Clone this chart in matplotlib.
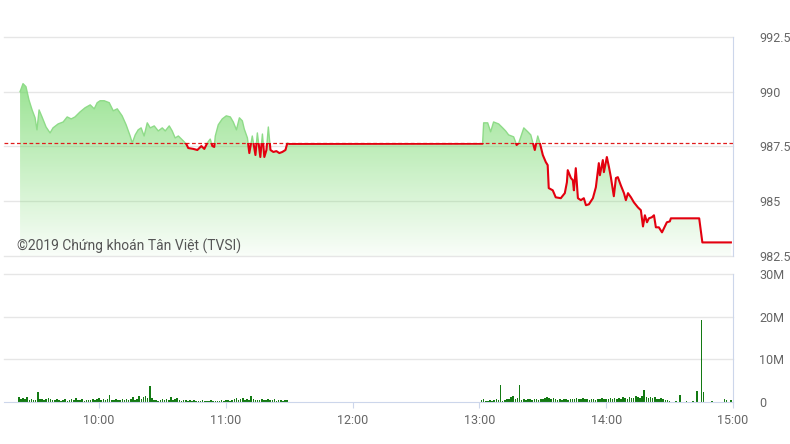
import numpy as np
import matplotlib.pyplot as plt
from matplotlib.patches import Polygon, Rectangle

plt.rcParams['font.family'] = ['Roboto', 'DejaVu Sans']

# index value, time in minutes after 9:00
price_min = [22.6, 24.0, 25.4, 26.8, 28.3, 29.7, 30.6, 31.6, 33.0, 34.9, 36.8, 38.2, 40.6, 43.0,
             44.9, 46.8, 48.6, 51.0, 53.4, 55.8, 57.7, 59.1, 60.5, 62.4, 64.8, 66.7, 68.6, 70.9,
             72.8, 74.7, 75.7, 77.1, 78.5, 79.9, 81.3, 82.8, 84.2, 86.1, 88.0, 89.9, 91.3, 93.2,
             94.6, 96.0, 97.5, 99.4, 101.3, 102.2, 104.6, 106.5, 108.4, 109.8, 111.2, 112.6,
             113.6, 114.5, 115.0, 116.4, 118.3, 120.2, 122.1, 123.5, 125.0, 126.4, 127.8, 128.7,
             130.2, 131.1, 132.5, 134.0, 134.9, 136.3, 137.3, 138.2, 139.2, 140.1, 141.1, 142.5,
             143.9, 145.3, 146.7, 148.2, 149.1, 150.0,
             240.0, 241.5, 242.0, 243.9, 245.3, 246.7, 249.1, 251.0, 252.4, 253.8, 256.2, 257.6,
             258.6, 261.0, 262.9, 264.3, 266.2, 266.7, 267.6, 268.6, 270.0, 271.4, 272.3, 272.8,
             274.7, 276.1, 278.5, 280.4, 281.4, 281.8, 283.3, 284.2, 284.7, 285.6, 286.6, 288.0,
             289.4, 290.4, 291.8, 293.7, 295.1, 296.5, 297.0, 298.4, 298.9, 300.3, 301.3, 302.2,
             303.6, 304.6, 305.5, 306.9, 308.4, 309.3, 310.3, 311.7, 313.1, 315.0, 316.4, 317.4,
             318.3, 319.3, 320.2, 321.6, 322.6, 323.5, 324.9, 326.4, 327.3, 328.7, 330.1, 330.6,
             344.0, 345.5, 359.0]
price_val = [990.00, 990.37, 990.23, 989.63, 989.17, 988.81, 988.26, 989.17, 988.85, 988.39,
             988.12, 988.35, 988.53, 988.62, 988.85, 988.76, 988.85, 989.08, 989.27, 989.40,
             989.22, 989.50, 989.59, 989.59, 989.50, 989.13, 989.22, 988.90, 988.49, 987.98,
             987.66, 988.03, 988.26, 988.35, 987.98, 988.58, 988.35, 988.44, 988.21, 988.35,
             988.21, 988.44, 988.21, 987.89, 987.98, 987.80, 987.61, 987.43, 987.39, 987.34,
             987.52, 987.39, 987.66, 987.84, 987.52, 987.48, 987.98, 988.49, 988.76, 988.90,
             988.85, 988.62, 988.26, 988.81, 988.67, 988.30, 987.89, 987.20, 987.98, 987.11,
             988.12, 987.02, 988.07, 987.02, 987.34, 988.39, 987.34, 987.25, 987.29, 987.20,
             987.25, 987.34, 987.66, 987.62,
             987.63, 987.63, 988.58, 988.58, 988.17, 988.62, 988.53, 988.35, 988.21, 988.03,
             987.94, 987.57, 987.66, 988.35, 988.17, 988.03, 987.34, 987.57, 987.98, 987.66,
             987.11, 986.79, 986.65, 985.60, 985.50, 985.18, 985.14, 985.37, 985.87, 986.42,
             986.06, 985.96, 985.50, 986.51, 985.14, 985.05, 985.14, 984.82, 984.86, 985.14,
             985.64, 986.74, 986.19, 986.88, 986.33, 987.02, 986.56, 986.10, 985.23, 986.06,
             986.10, 985.73, 985.37, 985.05, 985.37, 985.18, 984.95, 984.72, 984.59, 983.85,
             984.36, 984.04, 984.22, 984.27, 984.36, 983.81, 983.81, 983.58, 983.76, 984.04,
             984.08, 984.22, 984.22, 983.12, 983.12]
ref_price = 987.65

# volume in millions, one bar per minute
vol_am_start = 22
vol_am = [1.2, 0.8, 1.0, 0.6, 1.1, 0.5, 0.7, 0.4, 0.5, 2.3, 0.6, 0.8, 0.5, 0.7, 0.9, 0.6,
          0.5, 0.4, 0.6, 0.5, 0.3, 0.4, 0.6, 0.3, 0.5, 0.8, 0.4, 0.9, 0.5, 0.4, 0.6, 0.3,
          0.5, 0.4, 0.5, 0.7, 0.4, 0.6, 0.9, 0.5, 0.7, 0.4, 0.6, 1.6, 0.5, 0.4, 0.6, 0.5,
          0.4, 0.7, 0.5, 0.6, 0.4, 0.8, 1.2, 0.5, 0.6, 1.5, 0.7, 1.1, 1.4, 0.9, 3.7, 1.0,
          0.4, 0.5, 0.3, 0.4, 0.6, 0.5, 0.8, 0.4, 1.2, 0.5, 0.6, 0.9, 0.4, 0.3, 0.5, 0.4,
          0.3, 0.4, 0.3, 0.4, 0.3, 0.2, 0.3, 0.4, 0.3, 0.2, 0.3, 0.4, 0.3, 0.3, 0.2, 0.3,
          0.4, 0.3, 0.4, 0.5, 0.3, 0.4, 0.6, 0.9, 0.5, 0.7, 1.0, 0.5, 0.8, 0.4, 1.3, 0.6,
          0.5, 0.4, 0.5, 0.6, 0.4, 0.5, 0.7, 0.5, 0.4, 0.8, 0.3, 0.5, 0.4, 0.3, 0.4, 0.5]
vol_pm_start = 241
vol_pm = [0.4, 0.8, 0.3, 0.2, 0.4, 0.3, 0.5, 0.6, 0.4, 3.9, 0.3, 0.5, 0.6, 0.7, 1.2, 1.4,
          0.6, 0.9, 3.9, 0.5, 0.7, 0.5, 0.6, 0.8, 0.5, 0.6, 0.7, 0.5, 0.6, 0.7, 0.9, 1.1,
          1.0, 0.8, 0.9, 0.6, 0.5, 0.6, 0.5, 0.7, 0.6, 0.5, 0.6, 0.8, 0.6, 0.9, 0.8, 0.6,
          0.9, 0.7, 0.6, 0.5, 0.6, 0.7, 0.5, 0.6, 0.8, 0.9, 0.7, 0.6, 0.8, 0.9, 0.7, 1.0,
          0.8, 0.9, 0.6, 1.1, 0.9, 0.8, 1.2, 1.0, 0.9, 1.4, 1.2, 1.0, 1.3, 2.9, 1.1, 1.0,
          1.2, 0.9, 1.1, 0.7, 0.8, 1.0, 0.6, 0.5, 0.4, 0.3]
vol_late_min = [333, 335, 338, 341, 343, 345, 346, 350, 356, 357, 359]
vol_late = [0.2, 1.6, 0.2, 0.3, 2.6, 19.2, 2.3, 0.2, 0.7, 0.5, 0.4]

hour_ticks = [60, 120, 180, 240, 300, 360]
hour_labels = ['10:00', '11:00', '12:00', '13:00', '14:00', '15:00']
price_ticks = [982.5, 985, 987.5, 990, 992.5]
price_labels = ['982.5', '985', '987.5', '990', '992.5']
vol_ticks = [0, 10, 20, 30]
vol_labels = ['0', '10M', '20M', '30M']

grid_c = '#e6e6e6'
axis_c = '#ccd6eb'
label_c = '#666666'

fig = plt.figure(figsize=(7.9, 4.44), dpi=100)
ax1 = fig.add_axes([4 / 790, 1 - 256 / 444, 729 / 790, 219 / 444])
ax2 = fig.add_axes([4 / 790, 1 - 402 / 444, 729 / 790, 128 / 444])

# price panel
ax1.set_xlim(15, 360)
ax1.set_ylim(price_ticks[0], price_ticks[-1])
for v in price_ticks:
    ax1.axhline(v, color=grid_c, lw=1, zorder=0.5, clip_on=False)

# gradient fill under the price curve
grad = np.linspace(0.04, 0.85, 256).reshape(-1, 1)
rgba = np.zeros((256, 1, 4))
rgba[..., 0] = 0.42
rgba[..., 1] = 0.84
rgba[..., 2] = 0.38
rgba[..., 3] = grad
im = ax1.imshow(rgba, extent=[15, 360, price_ticks[0], price_ticks[-1]],
                aspect='auto', origin='lower', zorder=1)
verts = [(price_min[0], price_ticks[0])] + list(zip(price_min, price_val)) + \
        [(price_min[-1], price_ticks[0])]
poly = Polygon(verts, closed=True, facecolor='none', edgecolor='none')
ax1.add_patch(poly)
im.set_clip_path(poly)

ax1.axhline(ref_price, color='#e01b1b', lw=0.9, ls=(0, (3, 2)), zorder=2)

up, = ax1.plot(price_min, price_val, color='#8edb88', lw=1.0, zorder=3)
up.set_clip_path(Rectangle((15, ref_price), 345, 10, transform=ax1.transData))
dn, = ax1.plot(price_min, price_val, color='#e3000f', lw=1.5, zorder=3)
dn.set_clip_path(Rectangle((15, ref_price - 10), 345, 10, transform=ax1.transData))

ax1.yaxis.tick_right()
ax1.set_yticks(price_ticks)
ax1.set_yticklabels(price_labels)
ax1.set_xticks([])
ax1.tick_params(axis='y', length=0, pad=19, labelsize=9, labelcolor=label_c)
for s in ['left', 'top', 'bottom']:
    ax1.spines[s].set_visible(False)
ax1.spines['right'].set_color(axis_c)

# volume panel
am_min = np.arange(vol_am_start, vol_am_start + len(vol_am))
pm_min = np.arange(vol_pm_start, vol_pm_start + len(vol_pm))
for xs, vs in [(am_min, vol_am), (pm_min, vol_pm), (vol_late_min, vol_late)]:
    ax2.bar(xs, vs, width=0.75, color='#137a13', zorder=2)

ax2.set_xlim(15, 360)
ax2.set_ylim(vol_ticks[0], vol_ticks[-1])
for v in vol_ticks[1:]:
    ax2.axhline(v, color=grid_c, lw=1, zorder=0.5, clip_on=False)
ax2.yaxis.tick_right()
ax2.set_yticks(vol_ticks)
ax2.set_yticklabels(vol_labels)
ax2.tick_params(axis='y', length=0, pad=19, labelsize=9, labelcolor=label_c)
ax2.set_xticks(hour_ticks)
ax2.set_xticklabels(hour_labels)
ax2.tick_params(axis='x', length=4.5, width=0.8, color=axis_c, pad=4,
                labelsize=9, labelcolor=label_c)
for s in ['left', 'top']:
    ax2.spines[s].set_visible(False)
ax2.spines['right'].set_color(axis_c)
ax2.spines['bottom'].set_color(axis_c)

fig.text(17 / 790, 1 - 246 / 444, '©2019 Chứng khoán Tân Việt (TVSI)',
         fontsize=10, color='#555555', va='center', ha='left')

fig.savefig('out.png', dpi=100)
